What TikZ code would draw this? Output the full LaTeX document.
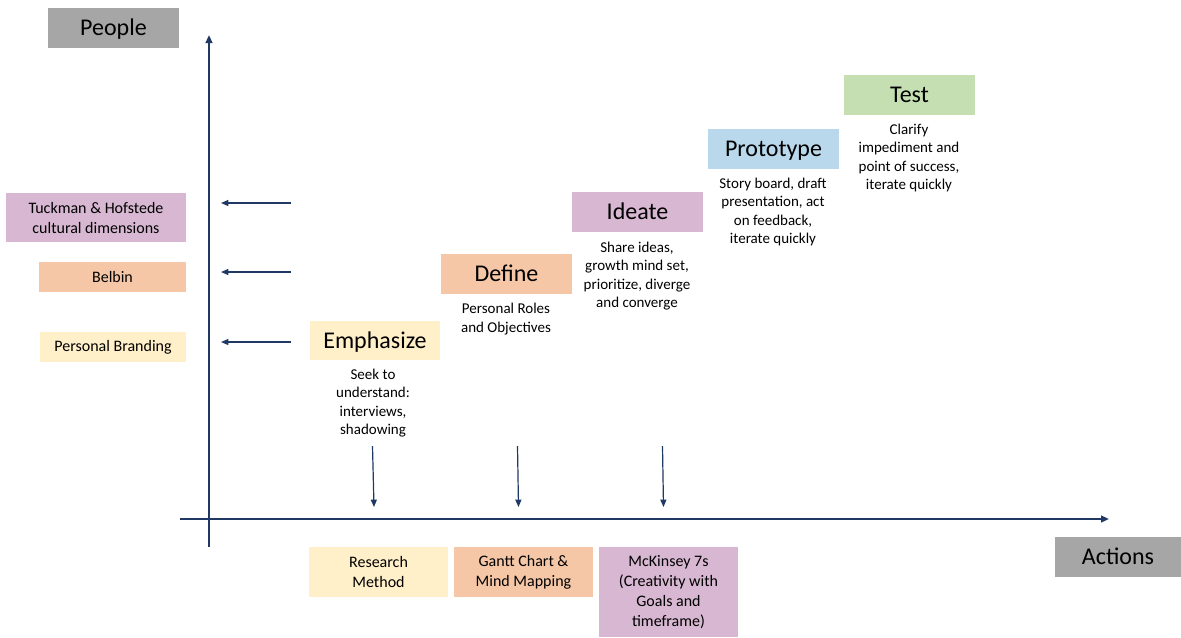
\documentclass[tikz,border=0pt]{standalone}
\usepackage{fontspec}
\setmainfont{Carlito}
\usetikzlibrary{arrows.meta}
\definecolor{navy}{HTML}{1F3864}
\definecolor{axisgray}{HTML}{A6A6A6}
\definecolor{softyellow}{HTML}{FFF0C9}
\definecolor{softorange}{HTML}{F5C7A7}
\definecolor{softpurple}{HTML}{D7B7D1}
\definecolor{softblue}{HTML}{B9D8EB}
\definecolor{softgreen}{HTML}{C5DFB3}
\begin{document}
\begin{tikzpicture}[x=0.75pt,y=-0.75pt,
  axislabel/.style={fill=axisgray, inner sep=0pt, minimum height=30pt,
    text height=13pt, text depth=1.4pt, font=\fontsize{18}{21.6}\selectfont},
  stage/.style={inner sep=0pt, minimum width=98.25pt, minimum height=30pt,
    text height=13pt, text depth=1.4pt, font=\fontsize{18}{21.6}\selectfont},
  tag/.style={inner sep=0pt, align=center, font=\fontsize{12}{15}\selectfont},
  note/.style={inner sep=0pt, align=center, font=\fontsize{11.25}{13.75}\selectfont},
  link/.style={navy, line width=0.9pt, -{Triangle[length=5.5pt,width=4.5pt]}},
  axis/.style={navy, line width=1.5pt, -{Triangle[length=6pt,width=5pt]}}]
\useasboundingbox (0,0) rectangle (1181,637);

% axes
\coordinate (yfoot) at (209,547);
\coordinate (ytop) at (209,35);
\coordinate (xfoot) at (180,519);
\coordinate (xtip) at (1109,519);
\draw[axis] (yfoot) -- (ytop);
\draw[axis] (xfoot) -- (xtip);

% axis labels
\node[axislabel, minimum width=98.25pt] (people) at (113.5,28) {People};
\node[axislabel, minimum width=94.5pt] (actions) at (1118,557) {Actions};

% people-side tools
\node[tag, fill=softpurple, minimum width=135pt, minimum height=36.75pt] (tuckman) at (96,217.5)
  {Tuckman \& Hofstede\\cultural dimensions};
\node[tag, fill=softorange, minimum width=110.25pt, minimum height=22.5pt] (belbin) at (112.5,277) {Belbin};
\node[tag, fill=softyellow, minimum width=109.5pt, minimum height=22.5pt] (branding) at (113,347) {Personal Branding};

% design thinking stages
\node[stage, fill=softyellow, minimum width=97.5pt, minimum height=29.25pt] (emph) at (375,340.5) {Emphasize};
\node[stage, fill=softorange] (define) at (506.5,274) {Define};
\node[stage, fill=softpurple] (ideate) at (637.5,212) {Ideate};
\node[stage, fill=softblue] (proto) at (773.5,149) {Prototype};
\node[stage, fill=softgreen] (test) at (909.5,95) {Test};

% stage descriptions
\node[note] (emphnote) at (373,403) {Seek to\\understand:\\interviews,\\shadowing};
\node[note] (definenote) at (506,319) {Personal Roles\\and Objectives};
\node[note] (ideatenote) at (637,276) {Share ideas,\\growth mind set,\\prioritize, diverge\\and converge};
\node[note] (protonote) at (773,212) {Story board, draft\\presentation, act\\on feedback,\\iterate quickly};
\node[note] (testnote) at (909,158) {Clarify\\impediment and\\point of success,\\iterate quickly};

% action-side tools
\node[tag, fill=softyellow, minimum width=104.25pt, minimum height=37.5pt] (research) at (378.5,572) {Research\\Method};
\node[tag, fill=softorange, minimum width=104.25pt, minimum height=37.5pt] (gantt) at (523.5,572) {Gantt Chart \&\\Mind Mapping};
\node[tag, fill=softpurple, minimum width=104.25pt, minimum height=67.5pt] (mckinsey) at (668.5,592)
  {McKinsey 7s\\(Creativity with\\Goals and\\timeframe)};

% arrows towards the people axis
\coordinate (la1) at (291,203); \coordinate (lb1) at (221,203);
\coordinate (la2) at (291,272); \coordinate (lb2) at (221,272);
\coordinate (la3) at (291,342); \coordinate (lb3) at (221,342);
\draw[link] (la1) -- (lb1);
\draw[link] (la2) -- (lb2);
\draw[link] (la3) -- (lb3);

% arrows towards the actions axis
\coordinate (da1) at (372.5,446); \coordinate (db1) at (374,507);
\coordinate (da2) at (517.5,446); \coordinate (db2) at (518.5,507);
\coordinate (da3) at (662.5,446); \coordinate (db3) at (663.5,507);
\draw[link] (da1) -- (db1);
\draw[link] (da2) -- (db2);
\draw[link] (da3) -- (db3);
\end{tikzpicture}
\end{document}
